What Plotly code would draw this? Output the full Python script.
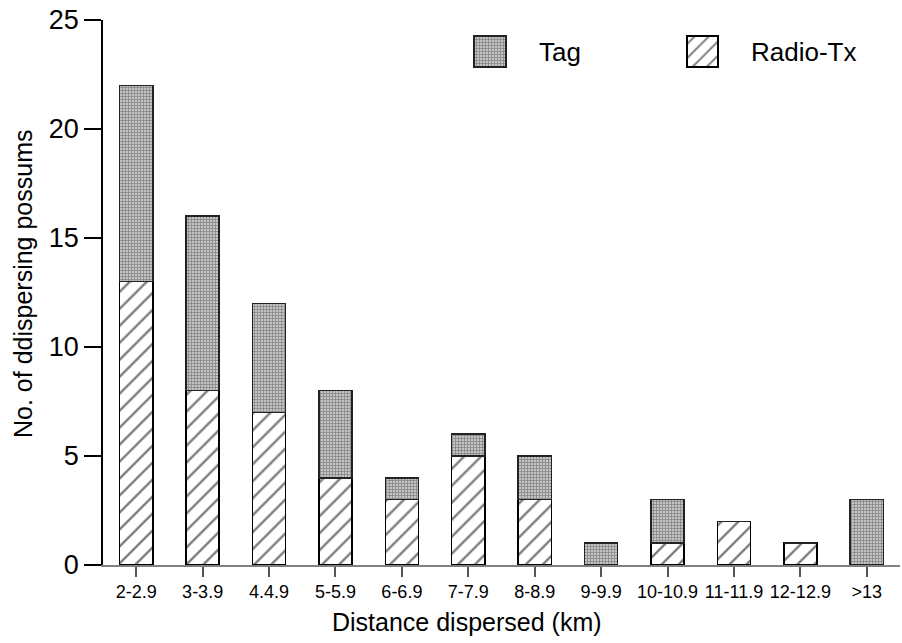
import plotly.graph_objects as go

categories = ["2-2.9", "3-3.9", "4.4.9", "5-5.9", "6-6.9", "7-7.9", "8-8.9",
              "9-9.9", "10-10.9", "11-11.9", "12-12.9", ">13"]
radio_tx = [13, 8, 7, 4, 3, 5, 3, 0, 1, 2, 1, 0]
tag = [9, 8, 5, 4, 1, 1, 2, 1, 2, 0, 0, 3]
y_ticks = [0, 5, 10, 15, 20, 25]

FONT = "Liberation Sans, Arial, sans-serif"
W, H = 902, 643
ML, MR, MT, MB = 103, 2, 20, 78
PW, PH = W - ML - MR, H - MT - MB

tag_pattern = dict(shape="+", size=3, solidity=0.45, fgcolor="#444444", bgcolor="#c4c4c4")
hatch_pattern = dict(shape="/", size=12, solidity=0.2, fgcolor="black", bgcolor="white")


def px_x(p):
    return (p - ML) / PW


def px_y(p):
    return (H - MB - p) / PH


fig = go.Figure()
fig.add_trace(go.Bar(
    x=categories, y=radio_tx, name="Radio-Tx",
    marker=dict(color="white", pattern=hatch_pattern, line=dict(color="black", width=1.5)),
    showlegend=False,
))
fig.add_trace(go.Bar(
    x=categories, y=tag, name="Tag",
    marker=dict(color="#c4c4c4", pattern=tag_pattern, line=dict(color="#222222", width=1.5)),
    showlegend=False,
))

# Legend keys drawn on an overlaid pixel-space axis so they can be large patterned boxes
fig.add_trace(go.Bar(
    x=[490], y=[31], base=[36], width=[32], xaxis="x2", yaxis="y2",
    marker=dict(color="#c4c4c4", pattern=tag_pattern, line=dict(color="#222222", width=1.5)),
    showlegend=False, hoverinfo="skip",
))
fig.add_trace(go.Bar(
    x=[702.5], y=[31], base=[36], width=[31], xaxis="x2", yaxis="y2",
    marker=dict(color="white", pattern=dict(hatch_pattern, size=10),
                line=dict(color="black", width=1.5)),
    showlegend=False, hoverinfo="skip",
))

fig.update_layout(
    width=W, height=H,
    margin=dict(l=ML, r=MR, t=MT, b=MB, pad=0),
    paper_bgcolor="white", plot_bgcolor="white",
    barmode="stack", bargap=0.5,
    font=dict(family=FONT, color="black"),
    xaxis=dict(
        type="category", categoryorder="array", categoryarray=categories,
        range=[-0.5, len(categories) - 0.5],
        showline=True, linecolor="#808080", linewidth=1.5,
        ticks="outside", ticklen=10, tickcolor="#555555", tickwidth=1.5,
        tickfont=dict(size=18, family=FONT),
        showgrid=False, zeroline=False, fixedrange=True,
    ),
    yaxis=dict(
        range=[0, 25], tickvals=y_ticks,
        showline=True, linecolor="black", linewidth=1.5,
        ticks="outside", ticklen=17, tickcolor="black", tickwidth=1.5,
        tickfont=dict(size=27, family=FONT),
        showgrid=False, zeroline=False,
    ),
    xaxis2=dict(overlaying="x", anchor="y2", range=[ML, W - MR], visible=False, fixedrange=True),
    yaxis2=dict(overlaying="y", anchor="x2", range=[H - MB, MT], visible=False, fixedrange=True),
    annotations=[
        dict(text="Distance dispersed (km)", xref="paper", yref="paper",
             x=px_x(467), y=px_y(622),
             xanchor="center", yanchor="middle", showarrow=False,
             font=dict(size=25, family=FONT)),
        dict(text="No. of ddispersing possums", xref="paper", yref="paper",
             x=px_x(23), y=px_y(284), textangle=-90,
             xanchor="center", yanchor="middle", showarrow=False,
             font=dict(size=25, family=FONT)),
        dict(text="Tag", xref="paper", yref="paper", x=px_x(537), y=px_y(51.5),
             xanchor="left", yanchor="middle", showarrow=False,
             font=dict(size=26, family=FONT)),
        dict(text="Radio-Tx", xref="paper", yref="paper", x=px_x(749), y=px_y(51.5),
             xanchor="left", yanchor="middle", showarrow=False,
             font=dict(size=26, family=FONT)),
    ],
)

fig.write_html("out.html", config={"displayModeBar": False},
               post_script="document.body.style.margin='0';")
